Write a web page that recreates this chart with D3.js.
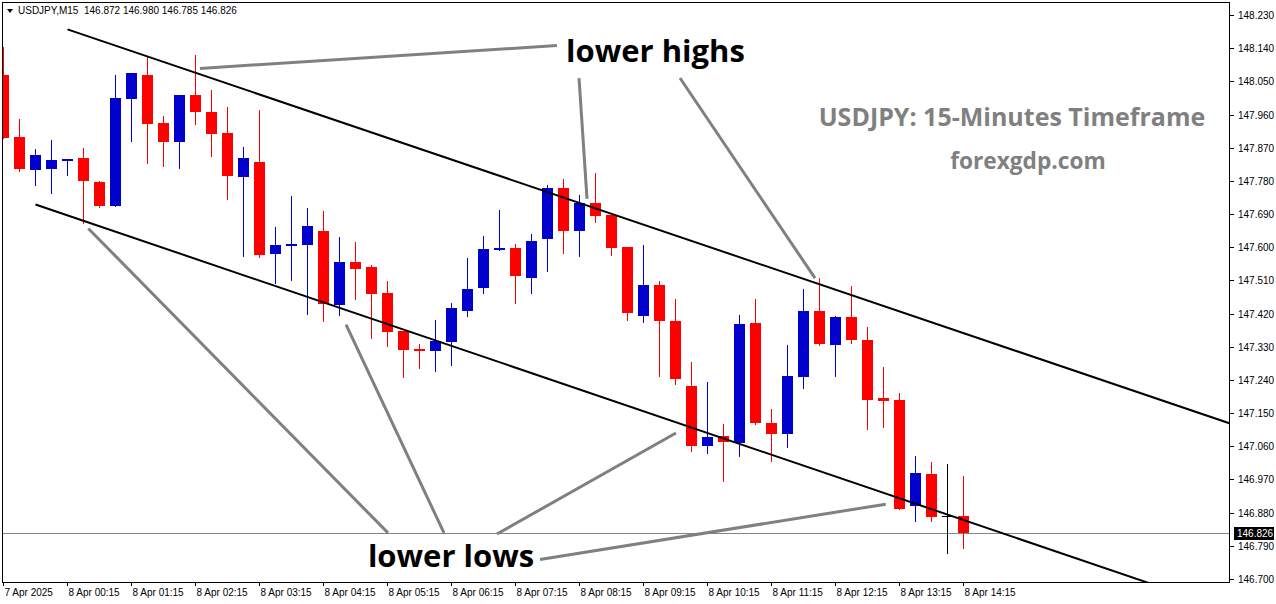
<!DOCTYPE html>
<html><head><meta charset="utf-8">
<script src="https://cdn.jsdelivr.net/npm/d3@7"></script>
<style>body{margin:0;background:#fff;overflow:hidden}svg{display:block}</style>
</head><body><svg id="c" width="1276" height="604"></svg>
<script>
// ---------- data ----------
const symbolInfo = "USDJPY,M15  146.872 146.980 146.785 146.826";
const xTickIndex = [0,4,8,12,16,20,24,28,32,36,40,44,48,52,56,60];
const xTickLabels = ["7 Apr 2025","8 Apr 00:15","8 Apr 01:15","8 Apr 02:15","8 Apr 03:15","8 Apr 04:15","8 Apr 05:15","8 Apr 06:15","8 Apr 07:15","8 Apr 08:15","8 Apr 09:15","8 Apr 10:15","8 Apr 11:15","8 Apr 12:15","8 Apr 13:15","8 Apr 14:15"];
const yTicks = [148.230,148.140,148.050,147.960,147.870,147.780,147.690,147.600,147.510,147.420,147.330,147.240,147.150,147.060,146.970,146.880,146.790,146.700];
const currentPrice = 146.826;

const openP  = [148.067,147.898,147.810,147.813,147.835,147.842,147.777,147.713,148.003,148.067,147.937,147.886,148.013,147.967,147.910,147.791,147.831,147.582,147.604,147.607,147.644,147.444,147.560,147.546,147.476,147.373,147.324,147.319,147.343,147.428,147.490,147.593,147.598,147.517,147.623,147.761,147.645,147.720,147.687,147.601,147.414,147.497,147.400,147.223,147.062,147.088,147.070,147.394,147.123,147.094,147.249,147.427,147.336,147.411,147.348,147.191,147.186,146.899,146.985,146.872,146.872];
const highP  = [148.144,147.948,147.866,147.891,147.839,147.869,147.780,148.067,148.073,148.117,147.956,148.013,148.121,148.027,147.980,147.872,147.972,147.655,147.739,147.706,147.698,147.628,147.614,147.552,147.508,147.373,147.337,147.403,147.449,147.571,147.630,147.701,147.609,147.636,147.769,147.785,147.742,147.801,147.687,147.601,147.606,147.508,147.460,147.289,147.235,147.120,147.416,147.460,147.161,147.335,147.487,147.517,147.413,147.496,147.384,147.276,147.204,147.034,147.017,147.012,146.980];
const lowP   = [147.895,147.808,147.769,147.748,147.796,147.665,147.708,147.711,147.889,147.828,147.820,147.816,147.935,147.848,147.732,147.577,147.573,147.504,147.512,147.420,147.401,147.417,147.460,147.355,147.333,147.249,147.273,147.265,147.281,147.414,147.477,147.593,147.450,147.477,147.536,147.585,147.577,147.669,147.580,147.403,147.398,147.251,147.230,147.048,147.043,146.967,147.034,147.121,147.021,147.059,147.219,147.336,147.251,147.341,147.108,147.113,146.890,146.858,146.858,146.770,146.785];
const closeP = [147.897,147.813,147.850,147.837,147.839,147.780,147.713,148.005,148.073,147.935,147.886,148.013,147.968,147.908,147.794,147.842,147.580,147.606,147.609,147.658,147.445,147.560,147.542,147.474,147.371,147.322,147.319,147.346,147.435,147.487,147.595,147.598,147.523,147.617,147.761,147.645,147.720,147.686,147.599,147.422,147.497,147.401,147.243,147.062,147.085,147.072,147.392,147.124,147.094,147.251,147.427,147.338,147.411,147.349,147.186,147.184,146.891,146.987,146.869,146.872,146.826];

// channel anchors: [bar index, price]
const upperChannel = [[4,148.191],[60,147.367]];
const lowerChannel = [[2,147.716],[60,146.860]];
// annotation pointer lines: [[i1,p1],[i2,p2]]
const pointerLines = [
  [[12.28,148.085],[34.59,148.147]],
  [[35.97,148.059],[36.47,147.731]],
  [[42.28,148.059],[50.72,147.516]],
  [[5.30,147.651],[24.03,146.825]],
  [[21.41,147.390],[27.53,146.825]],
  [[30.84,146.822],[42.03,147.096]],
  [[33.53,146.753],[55.14,146.903]]
];
const labelTexts = ["lower highs","lower lows"];
const labelAnchors = [[40.75,148.103],[27.97,146.732]];
const titleTexts = ["USDJPY: 15-Minutes Timeframe","forexgdp.com"];
const titleAnchors = [[63.03,147.928],[64.03,147.812]];

// ---------- layout ----------
const W = 1276, H = 604;
const plotL = 3, plotR = 1229, plotT = 3, plotB = 582;
const svg = d3.select("#c");
const x = d3.scaleLinear().domain([0,60]).range([3.5,963.5]);
const y = d3.scaleLinear().domain([146.700,148.230]).range([579,15]);

svg.append("rect").attr("width",W).attr("height",H).attr("fill","#fff");
svg.append("defs").append("clipPath").attr("id","clip")
  .append("rect").attr("x",plotL).attr("y",plotT).attr("width",plotR-plotL).attr("height",plotB-plotT);

const plot = svg.append("g").attr("clip-path","url(#clip)");

// current price line
plot.append("line").attr("x1",plotL).attr("x2",plotR)
  .attr("y1",Math.round(y(currentPrice))+0.5).attr("y2",Math.round(y(currentPrice))+0.5)
  .attr("stroke","#778899").attr("stroke-width",1);

// candles
const candles = d3.range(openP.length).map(i=>({i,o:openP[i],h:highP[i],l:lowP[i],c:closeP[i]}));
const col = d=> d.c>d.o ? "#0000cd" : (d.c<d.o ? "#ff0000" : "#000000");
const cg = plot.append("g").attr("shape-rendering","crispEdges");
cg.selectAll(".wick").data(candles).join("rect")
  .attr("x",d=>Math.floor(x(d.i)))
  .attr("width",1)
  .attr("y",d=>Math.round(y(d.h)))
  .attr("height",d=>Math.max(1,Math.round(y(d.l))-Math.round(y(d.h))+1))
  .attr("fill",col);
cg.selectAll(".body").data(candles).join("rect")
  .attr("x",d=>Math.floor(x(d.i))-5)
  .attr("width",11)
  .attr("y",d=>Math.round(y(Math.max(d.o,d.c))))
  .attr("height",d=>Math.max(1,Math.round(y(Math.min(d.o,d.c)))-Math.round(y(Math.max(d.o,d.c)))))
  .attr("fill",col);

// channel rays
function ray(a,b){
  const slope=(b[1]-a[1])/(b[0]-a[0]);
  const iEnd = x.invert(plotR+5);
  return [[x(a[0]),y(a[1])],[x(iEnd),y(a[1]+slope*(iEnd-a[0]))]];
}
[upperChannel,lowerChannel].forEach(ch=>{
  const pts = ray(ch[0],ch[1]);
  plot.append("line").attr("x1",pts[0][0]).attr("y1",pts[0][1]).attr("x2",pts[1][0]).attr("y2",pts[1][1])
    .attr("stroke","#000").attr("stroke-width",2);
});

// pointer lines
plot.selectAll(".ptr").data(pointerLines).join("line")
  .attr("x1",d=>x(d[0][0])).attr("y1",d=>y(d[0][1]))
  .attr("x2",d=>x(d[1][0])).attr("y2",d=>y(d[1][1]))
  .attr("stroke","#808080").attr("stroke-width",3);

// labels
plot.selectAll(".lbl").data(labelTexts).join("text")
  .attr("x",(d,k)=>x(labelAnchors[k][0])).attr("y",(d,k)=>y(labelAnchors[k][1]))
  .attr("text-anchor","middle").attr("font-family","'Open Sans', sans-serif")
  .attr("font-weight",700).attr("font-size",31).attr("fill","#000").text(d=>d);
plot.selectAll(".ttl").data(titleTexts).join("text")
  .attr("x",(d,k)=>x(titleAnchors[k][0])).attr("y",(d,k)=>y(titleAnchors[k][1]))
  .attr("text-anchor","middle").attr("font-family","'Open Sans', sans-serif")
  .attr("font-weight",700).attr("font-size",(d,k)=>k===0?25:22.7).attr("fill","#808080").text(d=>d);

// frame
svg.append("rect").attr("x",plotL-0.5).attr("y",plotT-0.5).attr("width",plotR-plotL+1).attr("height",plotB-plotT+1)
  .attr("fill","none").attr("stroke","#000").attr("stroke-width",1).attr("shape-rendering","crispEdges");

// y axis
const ya = svg.append("g").attr("shape-rendering","crispEdges");
yTicks.forEach(t=>{
  const yy = Math.round(y(t))+0.5;
  ya.append("line").attr("x1",plotR+0.5).attr("x2",plotR+4.5).attr("y1",yy).attr("y2",yy).attr("stroke","#000");
  ya.append("text").attr("x",1238).attr("y",yy+3.5).attr("font-family","'Liberation Sans', Arial, sans-serif")
    .attr("font-size",10).attr("fill","#000").text(t.toFixed(3));
});
// current price tag
const cy = Math.round(y(currentPrice))+0.5;
ya.append("rect").attr("x",1234).attr("y",cy-7).attr("width",40).attr("height",13).attr("fill","#000");
svg.append("text").attr("x",1237).attr("y",cy+3.5).attr("font-family","'Liberation Sans', Arial, sans-serif")
  .attr("font-size",10).attr("fill","#fff").text(currentPrice.toFixed(3));

// x axis
const xa = svg.append("g");
xTickIndex.forEach((ti,k)=>{
  const xx = Math.floor(x(ti))+0.5;
  xa.append("line").attr("x1",xx).attr("x2",xx).attr("y1",plotB).attr("y2",plotB+4).attr("stroke","#000").attr("shape-rendering","crispEdges");
  xa.append("text").attr("x",xx+1).attr("y",596).attr("font-family","'Liberation Sans', Arial, sans-serif")
    .attr("font-size",10).attr("fill","#000").text(xTickLabels[k]);
});

// header
svg.append("path").attr("d","M7,9 L13,9 L10,13 Z").attr("fill","#000");
svg.append("text").attr("x",18).attr("y",14).attr("font-family","'Liberation Sans', Arial, sans-serif")
  .attr("font-size",10).attr("fill","#000").attr("xml:space","preserve").style("white-space","pre").text(symbolInfo);
</script></body></html>
